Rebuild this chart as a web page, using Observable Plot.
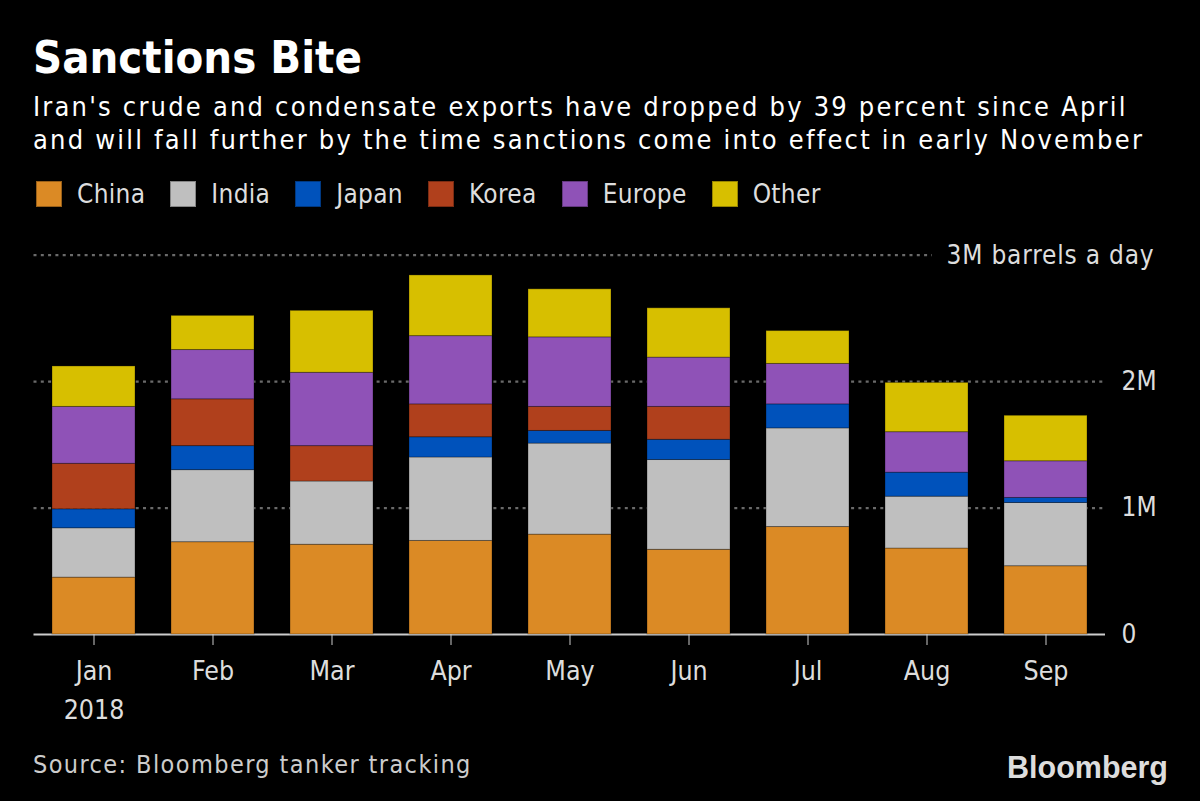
<!DOCTYPE html>
<html>
<head>
<meta charset="utf-8">
<script src="https://cdn.jsdelivr.net/npm/d3@7"></script>
<script src="https://cdn.jsdelivr.net/npm/@observablehq/plot@0.6"></script>
<style>
  html, body { margin: 0; padding: 0; background: #000; }
  body { width: 1200px; height: 801px; position: relative; overflow: hidden;
         font-family: "DejaVu Sans Condensed", "DejaVu Sans", sans-serif; font-stretch: condensed; }
  .abs { position: absolute; white-space: nowrap; }
  #title { left: 33px; top: 35px; font-size: 45px; line-height: 1; font-weight: bold; color: #fff; }
  #subtitle { left: 33px; top: 91px; font-size: 27px; line-height: 32.5px; color: #fff; letter-spacing: 2.2px; }
  #legend { left: 36px; top: 181px; display: flex; align-items: center; font-size: 26px; line-height: 1; color: #ddd; }
  #legend .item { display: flex; align-items: center; margin-right: 25px; }
  #legend .sw { width: 26px; height: 26px; margin-right: 15px; box-sizing: border-box; border: 1px solid rgba(0,0,0,0.3); }
  #legend .lab { letter-spacing: 0.3px; }
  #chart { left: 0; top: 230px; }
  #source { left: 33px; top: 752px; font-size: 25px; line-height: 1; color: #ccc; letter-spacing: 1.4px; }
  #logo { left: 1007px; top: 752px; font-family: "Liberation Sans", Arial, sans-serif; font-stretch: normal;
          font-weight: bold; font-size: 30.5px; line-height: 1; color: #ddd; }
</style>
</head>
<body>
<div id="title" class="abs">Sanctions Bite</div>
<div id="subtitle" class="abs">Iran's crude and condensate exports have dropped by 39 percent since April<br>and will fall further by the time sanctions come into effect in early November</div>
<div id="legend" class="abs"></div>
<div id="chart" class="abs"></div>
<div id="source" class="abs">Source: Bloomberg tanker tracking</div>
<div id="logo" class="abs">Bloomberg</div>
<script>
// Data (million barrels a day)
const months = ["Jan", "Feb", "Mar", "Apr", "May", "Jun", "Jul", "Aug", "Sep"];
const countries = ["China", "India", "Japan", "Korea", "Europe", "Other"];
const colors = ["#db8a25", "#bfbfbf", "#0052bb", "#b0401c", "#8f52b7", "#d7bf00"];
const china  = [0.45, 0.73, 0.71, 0.74, 0.79, 0.67, 0.85, 0.68, 0.54];
const india  = [0.39, 0.57, 0.50, 0.66, 0.72, 0.71, 0.78, 0.41, 0.50];
const japan  = [0.15, 0.19, 0.00, 0.16, 0.10, 0.16, 0.19, 0.19, 0.04];
const korea  = [0.36, 0.37, 0.28, 0.26, 0.19, 0.26, 0.00, 0.00, 0.00];
const europe = [0.45, 0.39, 0.58, 0.54, 0.55, 0.39, 0.32, 0.32, 0.29];
const other  = [0.32, 0.27, 0.49, 0.48, 0.38, 0.39, 0.26, 0.39, 0.36];
const yearLabel = "2018";
const yTicks = [0, 1, 2];
const yTickLabels = ["0", "1M", "2M"];
const topLine = [3];
const topLineLabel = "3M barrels a day";

const series = [china, india, japan, korea, europe, other];
const data = [];
countries.forEach((c, ci) => {
  months.forEach((m, mi) => {
    const v = series[ci][mi];
    if (v > 0) data.push({month: m, country: c, value: v});
  });
});

// Legend
const legend = document.getElementById("legend");
countries.forEach((c, i) => {
  const item = document.createElement("div");
  item.className = "item";
  item.innerHTML = `<span class="sw" style="background:${colors[i]}"></span><span class="lab">${c}</span>`;
  legend.appendChild(item);
});

const font = `"DejaVu Sans Condensed", "DejaVu Sans", sans-serif`;

const chart = Plot.plot({
  width: 1200,
  height: 500,
  marginLeft: 33.5,
  marginRight: 95,
  marginTop: 24.7,
  marginBottom: 96,
  style: {background: "#000", color: "#ddd", fontFamily: font, fontStretch: "condensed", overflow: "visible"},
  x: {domain: months, paddingInner: 0.3, paddingOuter: 0.15, label: null},
  y: {domain: [0, 3], label: null},
  color: {domain: countries, range: colors},
  marks: [
    Plot.ruleY([1, 2], {stroke: "#6a6a6a", strokeWidth: 2.2, strokeDasharray: "3,4.3"}),
    Plot.ruleY(topLine, {stroke: "#6a6a6a", strokeWidth: 2.2, strokeDasharray: "3,4.3", insetRight: 173}),
    Plot.ruleY([0], {stroke: "#cccccc", strokeWidth: 2}),
    Plot.barY(data, {x: "month", y: "value", fill: "country", order: countries,
                     stroke: "#000", strokeOpacity: 0.3, strokeWidth: 1}),
    Plot.axisX({tickSize: 11, tickPadding: 16, fontSize: 26.5, stroke: "#ccc", fill: "#ddd", label: null}),
    Plot.text([months[0]], {x: d => d, text: () => yearLabel, frameAnchor: "bottom", lineAnchor: "top",
                            dy: 66, fontSize: 26.5, fill: "#ddd"}),
    Plot.axisY({anchor: "right", ticks: yTicks, tickFormat: d => yTickLabels[yTicks.indexOf(d)],
                tickSize: 0, tickPadding: 16, fontSize: 26, fill: "#ddd", label: null}),
    Plot.text(topLine, {y: d => d, text: () => topLineLabel, frameAnchor: "right", textAnchor: "end",
                        dx: 49, fontSize: 26, fill: "#ddd", style: "letter-spacing: 0.8px"})
  ]
});
chart.querySelectorAll("text").forEach(t => {
  if (t.textContent === topLineLabel) t.setAttribute("letter-spacing", "0.8");
});
document.getElementById("chart").appendChild(chart);
</script>
</body>
</html>
